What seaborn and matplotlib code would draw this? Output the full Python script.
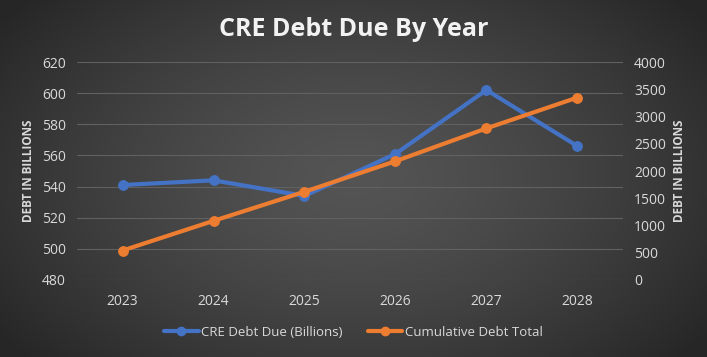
import numpy as np
import pandas as pd
import matplotlib
matplotlib.use("Agg")
import matplotlib.pyplot as plt
import seaborn as sns
from matplotlib.lines import Line2D

years = ["2023", "2024", "2025", "2026", "2027", "2028"]
debt_due = [541, 544, 534, 561, 602, 566]
cumulative = [541, 1085, 1619, 2180, 2782, 3348]
left_ticks = [480, 500, 520, 540, 560, 580, 600, 620]
right_ticks = [0, 500, 1000, 1500, 2000, 2500, 3000, 3500, 4000]

sns.set_theme(style="white")
plt.rcParams["font.family"] = ["Open Sans", "DejaVu Sans"]

BLUE = "#4472C4"
ORANGE = "#ED7D31"
TXT = "#D9D9D9"

fig = plt.figure(figsize=(7.07, 3.57), dpi=100)

# radial gradient background
bg = fig.add_axes([0, 0, 1, 1], zorder=-10)
yy, xx = np.mgrid[0:357, 0:707]
r = np.sqrt(((xx - 353) / 420.0) ** 2 + ((yy - 178) / 260.0) ** 2)
val = np.clip(0.33 - 0.17 * r ** 1.4, 0.15, 0.35)
bg.imshow(np.dstack([val, val, val]), aspect="auto", extent=[0, 1, 0, 1])
bg.axis("off")

df = pd.DataFrame({"pos": np.arange(len(years)), "year": years,
                   "due": debt_due, "cum": cumulative})

ax = fig.add_axes([0.109, 0.2157, 0.772, 0.6106])
ax.set_facecolor("none")
ax2 = ax.twinx()

sns.lineplot(data=df, x="pos", y="due", ax=ax, color=BLUE, linewidth=3,
             marker="o", markersize=7, markeredgecolor=BLUE, zorder=3)
sns.lineplot(data=df, x="pos", y="cum", ax=ax2, color=ORANGE, linewidth=3,
             marker="o", markersize=7, markeredgecolor=ORANGE, zorder=3)

ax.set_xlim(-0.5, len(years) - 0.5)
ax.set_ylim(480, 620)
ax2.set_ylim(0, 4000)
ax.set_yticks(left_ticks)
ax2.set_yticks(right_ticks)
ax.set_xticks(df["pos"])
ax.set_xticklabels(years)

for a in (ax, ax2):
    for s in a.spines.values():
        s.set_visible(False)
    a.tick_params(axis="both", colors=TXT, labelsize=10, length=0, pad=8)
    a.set_xlabel("")

ax.grid(axis="y", color="#616161", linewidth=0.8)
ax.set_axisbelow(True)
ax.set_ylabel("DEBT IN BILLIONS", color=TXT, fontsize=8.5, fontweight="bold", labelpad=5)
ax2.set_ylabel("DEBT IN BILLIONS", color=TXT, fontsize=8.5, fontweight="bold", labelpad=5)
ax.tick_params(axis="x", pad=10)

fig.text(0.5, 0.918, "CRE Debt Due By Year", ha="center", va="center",
         color="#F2F2F2", fontsize=18, fontweight="bold")

handles = [Line2D([0], [0], color=BLUE, lw=3, marker="o", markersize=6),
           Line2D([0], [0], color=ORANGE, lw=3, marker="o", markersize=6)]
fig.legend(handles, ["CRE Debt Due (Billions)", "Cumulative Debt Total"],
           loc="center", bbox_to_anchor=(0.5, 0.07), ncol=2, frameon=False,
           labelcolor=TXT, fontsize=9.5, handlelength=2.6, columnspacing=1.9,
           handletextpad=0.2)

fig.savefig("out.png", dpi=100)
